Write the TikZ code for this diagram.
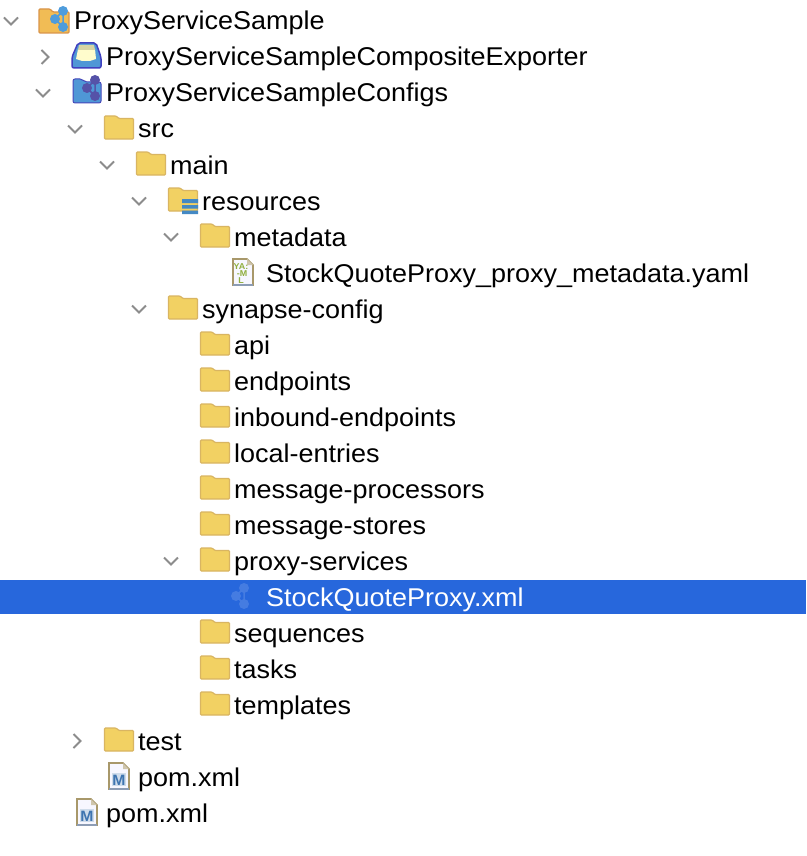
\documentclass[tikz,border=0pt]{standalone}
\usepackage{fontspec}
\setmainfont[FakeStretch=1.05]{Liberation Sans}
\usetikzlibrary{positioning}
\definecolor{folderfill}{HTML}{F2D163}
\definecolor{folderedge}{HTML}{D9B562}
\definecolor{chevgrey}{HTML}{8C8C8C}
\definecolor{rowblue}{HTML}{2767DC}
\definecolor{molblue}{HTML}{4E9CDC}
\definecolor{molpurple}{HTML}{5552A8}
\definecolor{boxblue}{HTML}{4F97D6}
\definecolor{stripeblue}{HTML}{4489C4}
\definecolor{rootfill}{HTML}{F1BC55}
\definecolor{rootedge}{HTML}{D9954A}
\definecolor{sheetedge}{HTML}{A8986A}
\definecolor{sheetfoot}{HTML}{8C9CB4}
\definecolor{mavenblue}{HTML}{3E74B0}
\definecolor{yamlgreen}{HTML}{8FAE3E}
\tikzset{
    rowlabel/.style={anchor=base west, inner sep=0pt, font=\fontsize{25.7}{30}\selectfont, text=black},
    chevdown/.pic={\draw [chevgrey, line width=1.8pt] (-7,-3.5) -- (0,3.5) -- (7,-3.5);},
    chevright/.pic={\draw [chevgrey, line width=1.8pt] (-3.5,-7) -- (3.5,0) -- (-3.5,7);},
    foldershape/.pic={
        \draw [folderedge, fill=folderfill, line width=1.2pt, rounded corners=1pt]
            (-14.5,-13) -- (-3,-13) -- (0,-10.5) -- (14.5,-10.5) -- (14.5,10) -- (-14.5,10) -- cycle;
    },
    molecule/.pic={
        \draw [pic actions, line width=1.5pt] (0,0) -- (8,-8) (0,0) -- (8,8) (8,-8) -- (8,8);
        \fill [pic actions] (0,0) circle (5) (8,-8) circle (5) (8,8) circle (5);
    },
    sheet/.pic={
        \draw [sheetedge, fill=blue!3, line width=1.6pt]
            (-10,-13) -- (4,-13) -- (10,-7) -- (10,13) -- (-10,13) -- cycle;
        \draw [sheetfoot, line width=1.6pt] (-10,13) -- (10,13);
        \fill [sheetedge!55] (4,-13) -- (10,-7) -- (4,-7) -- cycle;
    },
    mavensheet/.pic={
        \pic {sheet};
        \fill [mavenblue!25] (-7,-3) rectangle (7,10);
        \node (#1) [font=\bfseries\fontsize{15}{15}\selectfont, text=mavenblue, inner sep=0pt] at (0,4) {M};
    },
}
\begin{document}
\begin{tikzpicture}[x=1pt, y=-1pt]
    \useasboundingbox [fill=white] (0,0) rectangle (806,856);
    \fill [rowblue] (0,580) rectangle (806,614);
    % labels
    \node (root) [rowlabel] at (74,30) {ProxyServiceSample};
    \node (exporter) [rowlabel] at (106,66) {ProxyServiceSampleCompositeExporter};
    \node (configs) [rowlabel] at (106,102) {ProxyServiceSampleConfigs};
    \node (src) [rowlabel] at (138,138) {src};
    \node (main) [rowlabel] at (170,174) {main};
    \node (resources) [rowlabel] at (202,210) {resources};
    \node (metadata) [rowlabel] at (234,246) {metadata};
    \node (yaml) [rowlabel] at (266,282) {StockQuoteProxy\_proxy\_metadata.yaml};
    \node (synapse) [rowlabel] at (202,318) {synapse-config};
    \node (api) [rowlabel] at (234,354) {api};
    \node (endpoints) [rowlabel] at (234,390) {endpoints};
    \node (inbound) [rowlabel] at (234,426) {inbound-endpoints};
    \node (local) [rowlabel] at (234,462) {local-entries};
    \node (processors) [rowlabel] at (234,498) {message-processors};
    \node (stores) [rowlabel] at (234,534) {message-stores};
    \node (proxies) [rowlabel] at (234,570) {proxy-services};
    \node (proxyxml) [rowlabel, text=white] at (266,606) {StockQuoteProxy.xml};
    \node (sequences) [rowlabel] at (234,642) {sequences};
    \node (tasks) [rowlabel] at (234,678) {tasks};
    \node (templates) [rowlabel] at (234,714) {templates};
    \node (test) [rowlabel] at (138,750) {test};
    \node (innerpom) [rowlabel] at (138,786) {pom.xml};
    \node (outerpom) [rowlabel] at (106,822) {pom.xml};
    % chevrons
    \pic at (11,21) {chevdown};
    \pic at (45,57) {chevright};
    \pic at (43,93) {chevdown};
    \pic at (75,129) {chevdown};
    \pic at (107,165) {chevdown};
    \pic at (139,201) {chevdown};
    \pic at (171,237) {chevdown};
    \pic at (139,309) {chevdown};
    \pic at (171,561) {chevdown};
    \pic at (77,741) {chevright};
    % plain folders
    \foreach \fx/\fy in {119/129, 151/165, 183/201, 215/237, 183/309, 215/345, 215/381, 215/417,
        215/453, 215/489, 215/525, 215/561, 215/633, 215/669, 215/705, 119/741}
        \pic at (\fx,\fy) {foldershape};
    % resources stripes
    \fill [stripeblue] (182,199) rectangle (198,203) (182,205) rectangle (198,208.5) (182,210.5) rectangle (198,214);
    % project icons
    \draw [rounded corners=1pt, draw=rootedge, fill=rootfill, line width=1.2pt]
        (39,9) -- (50,9) -- (53,12) -- (69,12) -- (69,33) -- (39,33) -- cycle;
    \pic [molblue] at (55,19) {molecule};
    \draw [rounded corners=2pt, draw=blue!50!gray, fill=boxblue, line width=1.5pt]
        (72,57) -- (78,43) -- (96,43) -- (101,57) -- (101,68) -- (72,68) -- cycle;
    \fill [yellow!20!white] (78,49) -- (95,49) -- (96,59) -- (90,61) -- (82,61) -- (76,59) -- cycle;
    \fill [gray!60!yellow!60!white] (79,45) -- (94,45) -- (95,50) -- (78,50) -- cycle;
    \draw [rounded corners=2pt, draw=blue!45!gray, fill=boxblue, line width=1pt]
        (73,79) -- (82,79) -- (85,82) -- (101,82) -- (101,103) -- (73,103) -- cycle;
    \pic [molpurple] at (87,88) {molecule};
    % yaml sheet
    \pic at (243,272) {sheet};
    \node (yamlya) [font=\bfseries\fontsize{8.5}{8.5}\selectfont, text=yamlgreen, inner sep=0pt] at (241,267) {YA:};
    \node (yamlm) [font=\bfseries\fontsize{8.5}{8.5}\selectfont, text=yamlgreen, inner sep=0pt] at (242,274) {-M};
    \node (yamll) [font=\bfseries\fontsize{8.5}{8.5}\selectfont, text=yamlgreen, inner sep=0pt] at (241,281) {L};
    % pom sheets
    \pic at (119,776) {mavensheet=innerm};
    \pic at (87,812) {mavensheet=outerm};
    % selected row icon
    \pic [rowblue!86!white] at (236,596) {molecule};
\end{tikzpicture}
\end{document}
